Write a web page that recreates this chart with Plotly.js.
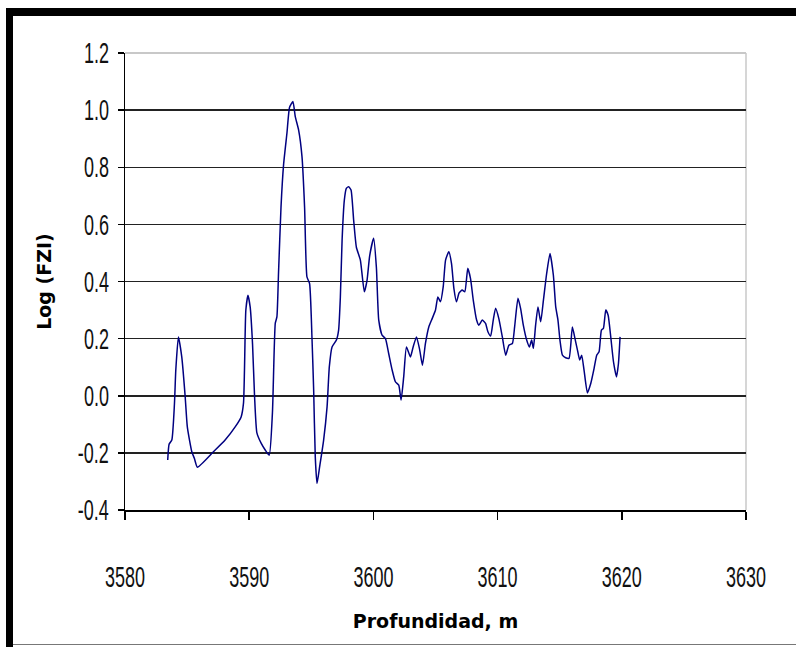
<!DOCTYPE html>
<html>
<head>
<meta charset="utf-8">
<script src="https://cdn.plot.ly/plotly-3.0.1.min.js"></script>
<style>
  html, body { margin:0; padding:0; background:#fff; }
  #wrap { position:relative; width:796px; height:647px; overflow:hidden; }
  #chart { position:absolute; left:0; top:0; width:796px; height:647px; }
  .band { position:absolute; background:#000; }
</style>
</head>
<body>
<div id="wrap">
  <div id="chart"></div>
  <div class="band" style="left:6px;top:8px;width:790px;height:8px;"></div>
  <div class="band" style="left:6px;top:8px;width:7px;height:639px;"></div>
  <div class="band" style="left:13px;top:644px;width:783px;height:1px;background:#777;"></div>
</div>
<script>
// Depth (m)
const depth = [
  3583.44, 3583.55, 3583.77, 3583.98, 3584.09, 3584.30, 3584.57, 3584.84, 3585.02, 3585.38,
  3585.59, 3585.83, 3587.12, 3588.06, 3588.87, 3589.35, 3589.54, 3589.62, 3589.73, 3589.90,
  3590.08, 3590.27, 3590.43, 3590.62, 3590.97, 3591.29, 3591.61, 3591.87, 3592.10, 3592.23,
  3592.36, 3592.56, 3592.77, 3593.04, 3593.25, 3593.52, 3593.71, 3593.98, 3594.25, 3594.46,
  3594.65, 3594.86, 3595.06, 3595.19, 3595.32, 3595.46, 3595.67, 3595.99, 3596.27, 3596.45,
  3596.67, 3597.02, 3597.20, 3597.34, 3597.48, 3597.66, 3597.82, 3598.01, 3598.20, 3598.41,
  3598.63, 3598.95, 3599.27, 3599.49, 3599.70, 3600.02, 3600.24, 3600.43, 3600.70, 3600.97,
  3601.23, 3601.51, 3601.77, 3602.04, 3602.23, 3602.44, 3602.66, 3602.98, 3603.20, 3603.47,
  3603.73, 3603.95, 3604.19, 3604.46, 3604.73, 3605.00, 3605.19, 3605.40, 3605.62, 3605.81,
  3606.07, 3606.29, 3606.48, 3606.69, 3606.90, 3607.15, 3607.36, 3607.60, 3607.82, 3608.04,
  3608.31, 3608.49, 3608.77, 3609.03, 3609.22, 3609.44, 3609.65, 3609.84, 3610.10, 3610.38,
  3610.65, 3610.91, 3611.19, 3611.37, 3611.64, 3611.85, 3612.07, 3612.34, 3612.56, 3612.74,
  3612.88, 3613.06, 3613.25, 3613.47, 3613.69, 3613.95, 3614.22, 3614.49, 3614.68, 3614.86,
  3615.02, 3615.22, 3615.48, 3615.75, 3616.02, 3616.23, 3616.43, 3616.61, 3616.77, 3616.96,
  3617.23, 3617.50, 3617.77, 3617.98, 3618.17, 3618.36, 3618.52, 3618.71, 3618.90, 3619.11,
  3619.33, 3619.57, 3619.73, 3619.86
];
// Log (FZI)
const logFZI = [
  -0.225, -0.17, -0.155, -0.03, 0.09, 0.206, 0.136, 0.0, -0.11, -0.196,
  -0.22, -0.25, -0.196, -0.155, -0.109, -0.074, -0.026, 0.09, 0.30, 0.352,
  0.31, 0.18, 0.0, -0.13, -0.167, -0.19, -0.208, -0.06, 0.254, 0.276,
  0.428, 0.66, 0.81, 0.92, 1.01, 1.03, 0.977, 0.93, 0.837, 0.66,
  0.416, 0.393, 0.195, 0.02, -0.214, -0.307, -0.249, -0.156, -0.039, 0.101,
  0.171, 0.195, 0.23, 0.346, 0.545, 0.685, 0.726, 0.732, 0.72, 0.615,
  0.52, 0.475, 0.364, 0.405, 0.49, 0.551, 0.45, 0.265, 0.212, 0.2,
  0.148, 0.09, 0.049, 0.037, -0.015, 0.066, 0.171, 0.136, 0.171, 0.206,
  0.16, 0.107, 0.183, 0.241, 0.27, 0.30, 0.346, 0.329, 0.381, 0.475,
  0.504, 0.463, 0.376, 0.329, 0.36, 0.37, 0.364, 0.446, 0.41, 0.335,
  0.265, 0.247, 0.265, 0.253, 0.224, 0.209, 0.265, 0.306, 0.27, 0.206,
  0.142, 0.177, 0.183, 0.241, 0.341, 0.306, 0.247, 0.195, 0.171, 0.195,
  0.166, 0.247, 0.311, 0.259, 0.335, 0.428, 0.498, 0.422, 0.311, 0.265,
  0.195, 0.142, 0.133, 0.131, 0.241, 0.2, 0.16, 0.125, 0.142, 0.09,
  0.01, 0.043, 0.096, 0.142, 0.154, 0.23, 0.236, 0.30, 0.282, 0.206,
  0.119, 0.066, 0.113, 0.206
];
const xTicks = [3580, 3590, 3600, 3610, 3620, 3630];
const yTicks = [-0.4, -0.2, 0.0, 0.2, 0.4, 0.6, 0.8, 1.0, 1.2];
const yTickText = ['-0.4', '-0.2', '0.0', '0.2', '0.4', '0.6', '0.8', '1.0', '1.2'];

const tickFont = { family: '"Liberation Sans", Arial, sans-serif', size: 20, color: '#111' };
const titleFont = { family: '"DejaVu Sans", Verdana, sans-serif', size: 19, color: '#000', weight: 'bold' };

const trace = {
  x: depth, y: logFZI, type: 'scatter', mode: 'lines',
  line: { color: '#000080', width: 1.5, shape: 'spline', smoothing: 0.5 },
  showlegend: false, hoverinfo: 'x+y'
};

const layout = {
  width: 796, height: 647,
  margin: { l: 125, r: 50, t: 53, b: 137 },
  paper_bgcolor: '#fff', plot_bgcolor: '#fff',
  showlegend: false,
  xaxis: {
    range: [3580, 3630], tickvals: xTicks, ticktext: xTicks.map(String),
    showgrid: false, zeroline: false,
    showline: true, linecolor: '#000', linewidth: 1.5,
    ticks: 'outside', ticklen: 8, tickwidth: 1.5, tickcolor: '#000',
    ticklabelstandoff: 40,
    tickfont: tickFont,
    title: { text: 'Profundidad, m', font: titleFont, standoff: 28 }
  },
  yaxis: {
    range: [-0.4, 1.2], tickvals: yTicks, ticktext: yTickText,
    showgrid: true, gridcolor: '#222', gridwidth: 1.5,
    zeroline: false,
    showline: true, linecolor: '#000', linewidth: 1.5,
    ticks: 'outside', ticklen: 6, tickwidth: 1.5, tickcolor: '#000',
    ticklabelstandoff: 3,
    tickfont: tickFont,
    title: { text: 'Log (FZI)', font: titleFont, standoff: 19 }
  },
  shapes: [
    { type: 'line', xref: 'paper', yref: 'paper', x0: 0, x1: 1, y0: 1, y1: 1, line: { color: '#c8c8c8', width: 2 }, layer: 'above' },
    { type: 'line', xref: 'paper', yref: 'paper', x0: 1, x1: 1, y0: 0, y1: 1, line: { color: '#c8c8c8', width: 1.5 }, layer: 'below' }
  ]
};

Plotly.newPlot('chart', [trace], layout, { displayModeBar: false, staticPlot: true }).then(function () {
  // Stretch tick labels vertically (condensed, tall look of the original)
  try {
    document.querySelectorAll('#chart .xtick text, #chart .ytick text').forEach(function (t) {
      const b = t.getBBox();
      if (!b || !b.width) return;
      const cx = b.x + b.width / 2, cy = b.y + b.height / 2;
      const prev = t.getAttribute('transform') || '';
      t.setAttribute('transform', prev + ' translate(' + cx + ',' + cy + ') scale(0.9,1.45) translate(' + (-cx) + ',' + (-cy) + ')');
    });
  } catch (e) {}
});
</script>
</body>
</html>
